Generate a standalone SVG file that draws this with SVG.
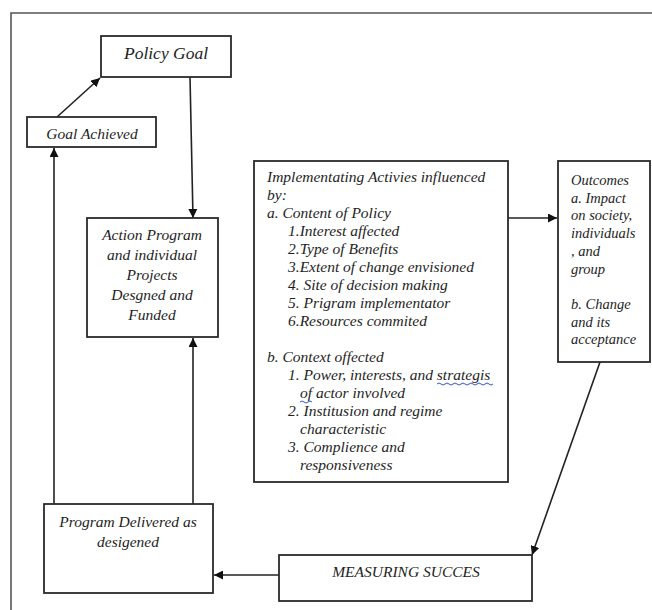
<svg xmlns="http://www.w3.org/2000/svg" width="652" height="610" viewBox="0 0 652 610">
<defs>
<marker id="ah" viewBox="0 0 10 10" refX="10" refY="5" markerWidth="9" markerHeight="9" markerUnits="userSpaceOnUse" orient="auto">
<path d="M0,0 L10,5 L0,10 z" fill="#111"/>
</marker>
<style>
.box{fill:#fff;stroke:#2a2a2a;stroke-width:1.8}
.t{font-family:"Liberation Serif","Times New Roman",serif;font-style:italic;fill:#1e1e1e}
.c{text-anchor:middle}
.ln{stroke:#222;stroke-width:1.6;fill:none}
</style>
</defs>
<rect width="652" height="610" fill="#fff"/>
<g id="frame">
<path d="M11,610 L11,13 L652,13" fill="none" stroke="#555" stroke-width="1.6"/>
</g>
<g id="connectors">
<line class="ln" x1="57" y1="117" x2="100" y2="78" marker-end="url(#ah)"/>
<line class="ln" x1="190" y1="77" x2="193" y2="218" marker-end="url(#ah)"/>
<line class="ln" x1="54" y1="504" x2="54" y2="148" marker-end="url(#ah)"/>
<line class="ln" x1="193" y1="504" x2="193" y2="338" marker-end="url(#ah)"/>
<line class="ln" x1="508" y1="218" x2="557" y2="218" marker-end="url(#ah)"/>
<line class="ln" x1="600" y1="362" x2="532" y2="555" marker-end="url(#ah)"/>
<line class="ln" x1="279" y1="575" x2="214" y2="575" marker-end="url(#ah)"/>
</g>
<g id="policy-goal">
<rect class="box" x="101" y="36" width="130" height="41"/>
<text class="t c" x="166" y="59" font-size="17.5">Policy Goal</text>
</g>
<g id="goal-achieved">
<rect class="box" x="27" y="117" width="129" height="30"/>
<text class="t c" x="92" y="139" font-size="15.5">Goal Achieved</text>
</g>
<g id="action-program">
<rect class="box" x="87" y="218" width="131" height="119"/>
<text class="t c" font-size="15.5"><tspan x="152" y="240">Action Program</tspan><tspan x="152" y="260">and individual</tspan><tspan x="152" y="280">Projects</tspan><tspan x="152" y="300">Desgned and</tspan><tspan x="152" y="320">Funded</tspan></text>
</g>
<g id="implementing">
<rect class="box" x="254" y="161" width="254" height="321"/>
<text class="t" font-size="15.5">
<tspan x="267" y="182">Implementating Activies influenced</tspan>
<tspan x="267" y="200">by:</tspan>
<tspan x="267" y="218">a. Content of Policy</tspan>
<tspan x="288" y="236">1.Interest affected</tspan>
<tspan x="288" y="254">2.Type of Benefits</tspan>
<tspan x="288" y="272">3.Extent of change envisioned</tspan>
<tspan x="288" y="290">4. Site of decision making</tspan>
<tspan x="288" y="308">5. Prigram implementator</tspan>
<tspan x="288" y="326">6.Resources commited</tspan>
<tspan x="267" y="362">b. Context offected</tspan>
<tspan x="288" y="380">1. Power, interests, and strategis</tspan>
<tspan x="300" y="398">of actor involved</tspan>
<tspan x="288" y="416">2. Institusion and regime</tspan>
<tspan x="300" y="434">characteristic</tspan>
<tspan x="288" y="452">3. Complience and</tspan>
<tspan x="300" y="470">responsiveness</tspan>
</text>
<path d="M437,384 q2,-2 4,0 t4,0 t4,0 t4,0 t4,0 t4,0 t4,0 t4,0 t4,0 t4,0 t4,0 t4,0 t4,0 t4,0" fill="none" stroke="#3355cc" stroke-width="1"/>
<path d="M300,402 q2,-2 4,0 t4,0 t4,0" fill="none" stroke="#3355cc" stroke-width="1"/>
</g>
<g id="outcomes">
<rect class="box" x="558" y="161" width="92" height="201"/>
<text class="t" font-size="14.5">
<tspan x="571" y="185">Outcomes</tspan>
<tspan x="571" y="202.7">a. Impact</tspan>
<tspan x="571" y="220.4">on society,</tspan>
<tspan x="571" y="238.1">individuals</tspan>
<tspan x="571" y="255.8">, and</tspan>
<tspan x="571" y="273.5">group</tspan>
<tspan x="571" y="308.9">b. Change</tspan>
<tspan x="571" y="326.6">and its</tspan>
<tspan x="571" y="344.3">acceptance</tspan>
</text>
</g>
<g id="program-delivered">
<rect class="box" x="44" y="504" width="169" height="89"/>
<text class="t c" font-size="15.5"><tspan x="128" y="527">Program Delivered as</tspan><tspan x="128" y="547">desigened</tspan></text>
</g>
<g id="measuring">
<rect class="box" x="279" y="555" width="253" height="46"/>
<text class="t c" x="406" y="577" font-size="15.5">MEASURING SUCCES</text>
</g>
</svg>
